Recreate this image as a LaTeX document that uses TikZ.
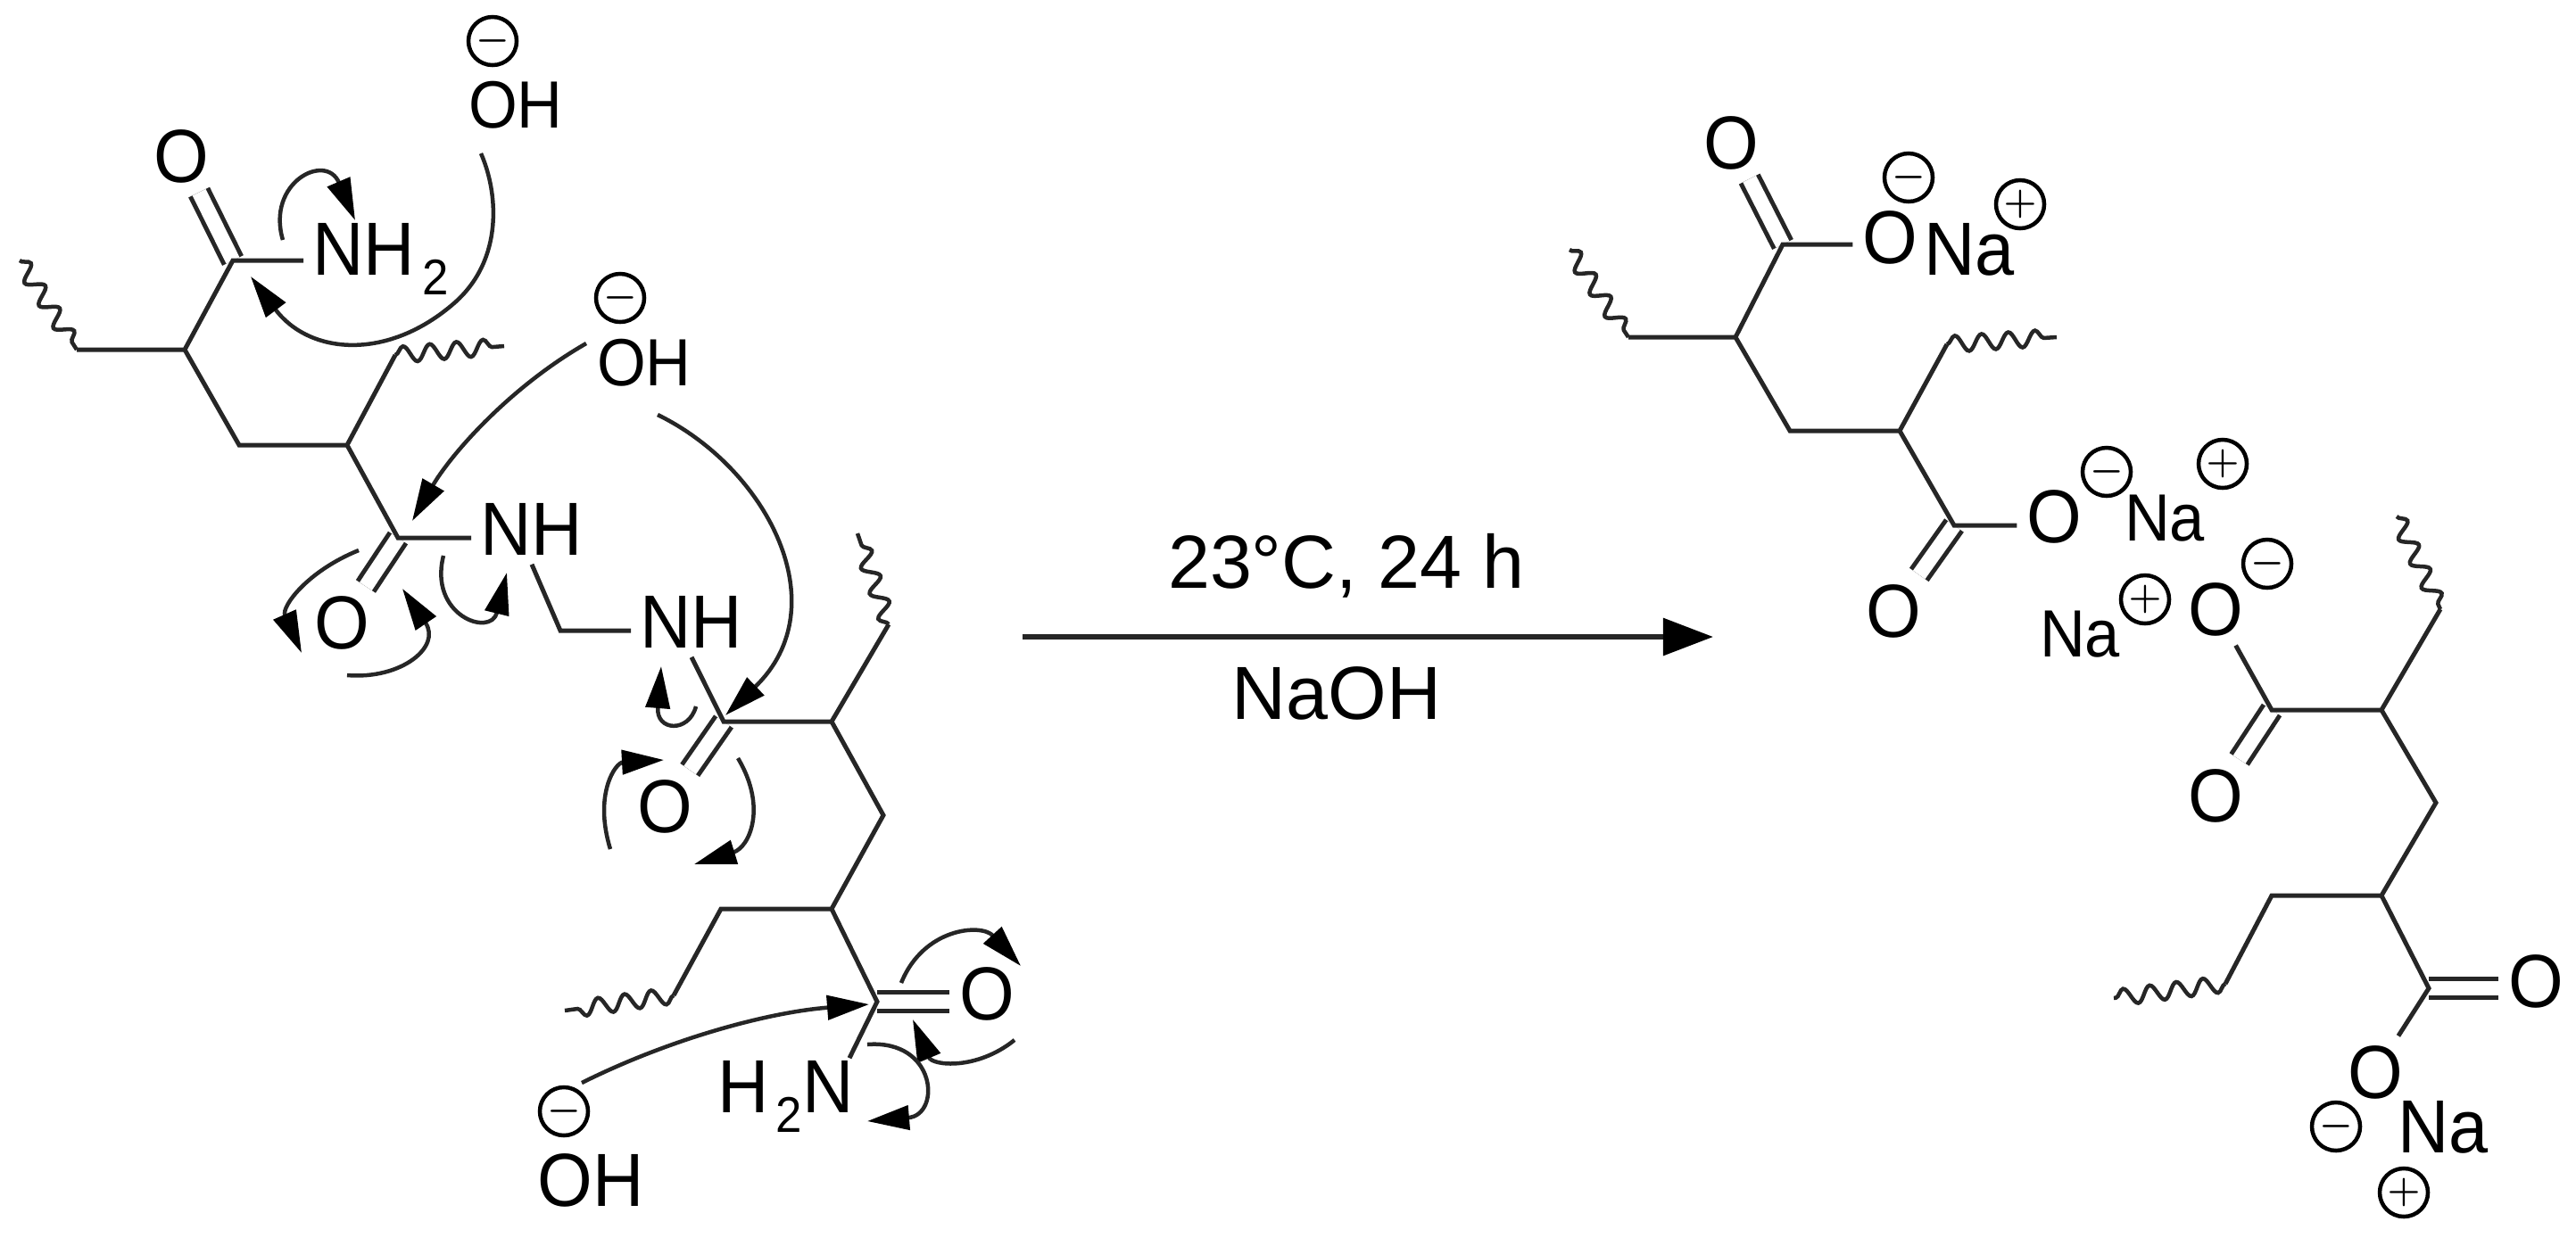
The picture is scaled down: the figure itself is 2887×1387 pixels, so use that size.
\documentclass[tikz,border=0pt]{standalone}
\usepackage{fontspec}
\setmainfont{Liberation Sans}
\newfontfamily\atomfont[FakeStretch=0.94]{Liberation Sans}
\usetikzlibrary{arrows.meta,decorations.pathmorphing}
\newcommand{\lowtwo}{\kern0.08cm\raisebox{-0.22cm}{\fontsize{16}{16}\selectfont 2}}
\tikzset{
  atom/.style={inner sep=0.1cm,font=\atomfont\fontsize{24}{28}\selectfont},
  atomsm/.style={inner sep=0.1cm,font=\atomfont\fontsize{21.3}{25}\selectfont},
  condtxt/.style={inner sep=0.1cm,font=\fontsize{24}{28}\selectfont},
  chg/.style={circle,draw,line width=0.045cm,inner sep=0,minimum size=0.54cm,font=\fontsize{12}{12}\selectfont\boldmath},
  bond/.style={line width=0.05cm,black!85},
  dbl/.style={line width=0.05cm,black!85,double,double distance=0.165cm},
  wavy/.style={line width=0.045cm,black!85,decorate,decoration={snake,segment length=0.3cm,amplitude=0.09cm}},
  curly/.style={line width=0.045cm,black!85,-{Triangle[length=0.47cm,width=0.27cm,black]}},
  mainarrow/.style={line width=0.06cm,black!85,-{Triangle[length=0.56cm,width=0.41cm,black]}}
}
\begin{document}
\begin{tikzpicture}[x=0.01cm,y=-0.01cm]
    \useasboundingbox (0,0) rectangle (2887,1387);

    % Esqueleto, lado esquerdo
    \coordinate (w1) at (22,292);
    \coordinate (a1) at (86,392);
    \coordinate (a2) at (207,392);
    \coordinate (a3) at (261,292);
    \coordinate (a4) at (268,499);
    \coordinate (a5) at (389,499);
    \coordinate (a6) at (443,398);
    \coordinate (w2) at (565,388);
    \coordinate (a7) at (446,603);
    \coordinate (l1) at (628,707);
    \coordinate (b1) at (811,809);
    \coordinate (b2) at (932,809);
    \coordinate (b3) at (996,700);
    \coordinate (w3) at (961,598);
    \coordinate (b4) at (990,914);
    \coordinate (b5) at (932,1019);
    \coordinate (b6) at (808,1019);
    \coordinate (b7) at (755,1116);
    \coordinate (w4) at (633,1133);
    \coordinate (b8) at (983,1123);

    % Esqueleto, lado direito
    \coordinate (w5) at (1759,280);
    \coordinate (r1) at (1825,378);
    \coordinate (r2) at (1945,378);
    \coordinate (r3) at (1998,274);
    \coordinate (r4) at (2006,483);
    \coordinate (r5) at (2129,483);
    \coordinate (r6) at (2182,386);
    \coordinate (w6) at (2305,378);
    \coordinate (r7) at (2190,589);
    \coordinate (w7) at (2686,579);
    \coordinate (q1) at (2735,683);
    \coordinate (q2) at (2669,796);
    \coordinate (q3) at (2546,796);
    \coordinate (q4) at (2730,900);
    \coordinate (q5) at (2669,1004);
    \coordinate (q6) at (2546,1004);
    \coordinate (q7) at (2494,1103);
    \coordinate (w8) at (2369,1119);
    \coordinate (q8) at (2722,1108);

    % Atomos
    \node[atom] (oa) at (203,175) {O};
    \node[atom,anchor=base west] (nha) at (340,308) {NH\lowtwo};
    \node[atom] (nb) at (596,593) {NH};
    \node[atom] (oc) at (383,698) {O};
    \node[atom] (nc) at (775,697) {NH};
    \node[atom] (od) at (745,904) {O};
    \node[atom] (oe) at (1106,1114) {O};
    \node[atom,anchor=base east] (nd) at (967,1247) {H\lowtwo N};
    \node[atomsm] (oh1) at (578,118) {OH};
    \node[atomsm] (oh2) at (722,407) {OH};
    \node[atom] (oh3) at (662,1323) {OH};

    \node[atom] (of) at (1940,160) {O};
    \node[atom] (og) at (2118,266) {O};
    \node[atom] (na1) at (2207,280) {Na};
    \node[atom] (oi) at (2302,579) {O};
    \node[atomsm] (na2) at (2426,581) {Na};
    \node[atom] (oj) at (2122,685) {O};
    \node[atomsm] (na3) at (2331,711) {Na};
    \node[atom] (ok) at (2483,683) {O};
    \node[atom] (ol) at (2483,892) {O};
    \node[atom] (om) at (2842,1100) {O};
    \node[atom] (op) at (2662,1202) {O};
    \node[atom] (na4) at (2738,1264) {Na};

    % Cargas
    \node[chg] (m1) at (552,46) {$-$};
    \node[chg] (m2) at (695,334) {$-$};
    \node[chg] (m3) at (632,1246) {$-$};
    \node[chg] (m4) at (2139,199) {$-$};
    \node[chg] (m5) at (2361,529) {$-$};
    \node[chg] (m6) at (2541,632) {$-$};
    \node[chg] (m7) at (2618,1263) {$-$};
    \node[chg] (p1) at (2264,229) {$+$};
    \node[chg] (p2) at (2491,520) {$+$};
    \node[chg] (p3) at (2404,672) {$+$};
    \node[chg] (p4) at (2694,1337) {$+$};

    % Ligacoes duplas
    \draw[dbl] (a3) -- (oa);
    \draw[dbl] (a7) -- (oc);
    \draw[dbl] (b1) -- (od);
    \draw[dbl] (b8) -- (b8 -| oe.west);
    \draw[dbl] (r3) -- (of);
    \draw[dbl] (r7) -- (oj);
    \draw[dbl] (q3) -- (ol);
    \draw[dbl] (q8) -- (q8 -| om.west);

    % Ligacoes simples
    \draw[bond] (a1) -- (a2) -- (a3) -- (a3 -| nha.west);
    \draw[bond] (a2) -- (a4) -- (a5) -- (a6);
    \draw[bond] (a5) -- (a7) -- (a7 -| nb.west);
    \draw[bond] (nb.south) -- (l1) -- (l1 -| nc.west);
    \draw[bond] (nc.south) -- (b1) -- (b2) -- (b3);
    \draw[bond] (b2) -- (b4) -- (b5) -- (b6) -- (b7);
    \draw[bond] (b5) -- (b8) -- ([shift={(-0.15cm,-0.08cm)}]nd.north east);
    \draw[bond] (r1) -- (r2) -- (r3) -- (r3 -| og.west);
    \draw[bond] (r2) -- (r4) -- (r5) -- (r6);
    \draw[bond] (r5) -- (r7) -- (r7 -| oi.west);
    \draw[bond] (q1) -- (q2) -- (q3) -- (ok);
    \draw[bond] (q2) -- (q4) -- (q5) -- (q6) -- (q7);
    \draw[bond] (q5) -- (q8) -- (op);

    % Cadeias cortadas
    \draw[wavy] (w1) -- (a1);
    \draw[wavy] (a6) -- (w2);
    \draw[wavy] (b3) -- (w3);
    \draw[wavy] (b7) -- (w4);
    \draw[wavy] (w5) -- (r1);
    \draw[wavy] (r6) -- (w6);
    \draw[wavy] (w7) -- (q1);
    \draw[wavy] (q7) -- (w8);

    % Setas curvas
    \coordinate (s1) at (539,172);   \coordinate (t1) at (281,310);
    \coordinate (s2) at (317,269);   \coordinate (t2) at (398,247);
    \coordinate (s3) at (657,385);   \coordinate (t3) at (462,584);
    \coordinate (s4) at (737,465);   \coordinate (t4) at (813,802);
    \coordinate (s5) at (402,617);   \coordinate (t5) at (338,732);
    \coordinate (s6) at (389,757);   \coordinate (t6) at (451,660);
    \coordinate (s7) at (497,623);   \coordinate (t7) at (568,642);
    \coordinate (s8) at (780,792);   \coordinate (t8) at (741,747);
    \coordinate (s9) at (684,952);   \coordinate (t9) at (744,852);
    \coordinate (s10) at (827,850);  \coordinate (t10) at (778,969);
    \coordinate (s11) at (1010,1102); \coordinate (t11) at (1144,1083);
    \coordinate (s12) at (1137,1166); \coordinate (t12) at (1023,1143);
    \coordinate (s13) at (652,1214); \coordinate (t13) at (974,1126);
    \coordinate (s14) at (972,1171); \coordinate (t14) at (972,1257);
    \draw[curly] (s1) .. controls (558,215) and (565,290) .. (510,339) .. controls (435,405) and (347,398) .. (t1);
    \draw[curly] (s2) .. controls (298,205) and (365,170) .. (t2);
    \draw[curly] (s3) .. controls (570,435) and (505,510) .. (t3);
    \draw[curly] (s4) .. controls (860,525) and (940,680) .. (t4);
    \draw[curly] (s5) .. controls (345,640) and (315,680) .. (t5);
    \draw[curly] (s6) .. controls (450,762) and (495,725) .. (t6);
    \draw[curly] (s7) .. controls (480,690) and (550,715) .. (t7);
    \draw[curly] (s8) .. controls (772,822) and (735,820) .. (t8);
    \draw[curly] (s9) .. controls (665,890) and (690,855) .. (t9);
    \draw[curly] (s10) .. controls (860,905) and (840,950) .. (t10);
    \draw[curly] (s11) .. controls (1035,1040) and (1100,1035) .. (t11);
    \draw[curly] (s12) .. controls (1095,1200) and (1045,1195) .. (t12);
    \draw[curly] (s13) .. controls (750,1165) and (860,1135) .. (t13);
    \draw[curly] (s14) .. controls (1050,1165) and (1055,1250) .. (t14);

    % Seta da reacao
    \coordinate (ra) at (1146,714);
    \coordinate (rb) at (1920,714);
    \draw[mainarrow] (ra) -- (rb);
    \node[condtxt,anchor=base] (cond1) at (1509,659) {23°C, 24 h};
    \node[condtxt,anchor=base] (cond2) at (1498,806) {NaOH};
\end{tikzpicture}
\end{document}
